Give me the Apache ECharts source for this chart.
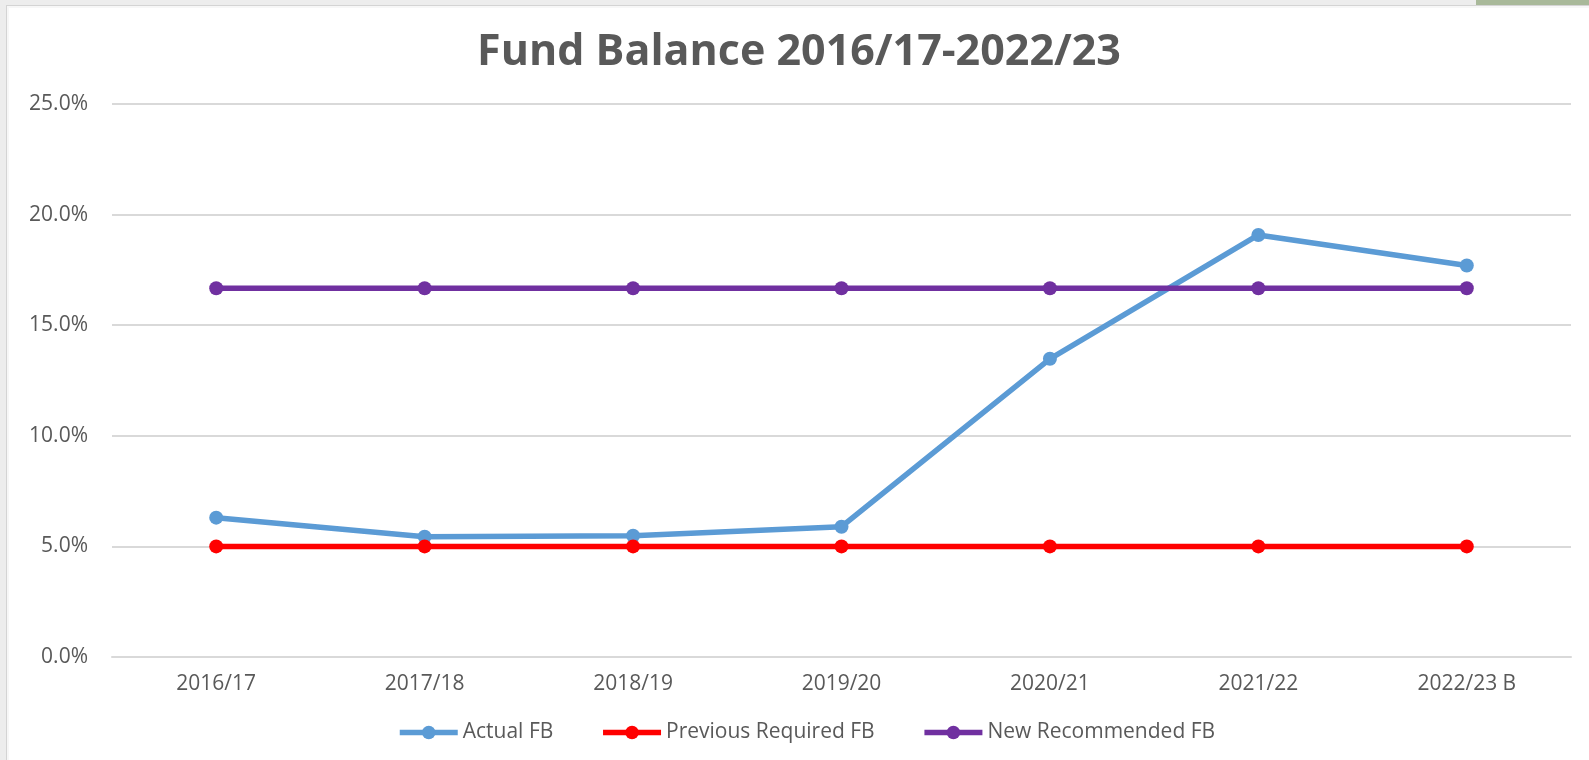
<!DOCTYPE html>
<html>
<head>
<meta charset="utf-8">
<title>Fund Balance</title>
<script src="https://cdn.jsdelivr.net/npm/echarts@6/dist/echarts.min.js"></script>
<style>
  html, body { margin: 0; padding: 0; background: #ededed; overflow: hidden; }
  #frame { position: absolute; left: 6px; top: 5px; width: 1583px; height: 755px; background: #f7f7f7; border-left: 1px solid #d4d4d4; border-top: 1px solid #d4d4d4; }
  #chart { position: absolute; left: 9px; top: 8px; width: 1580px; height: 752px; background: #ffffff; }
  #tab { position: absolute; left: 1476px; top: 0; width: 113px; height: 5px; background: #a9b99a; }
</style>
</head>
<body>
<div id="frame"></div>
<div id="tab"></div>
<div id="chart"></div>
<script>
// categories + series (percent)
const years = ['2016/17', '2017/18', '2018/19', '2019/20', '2020/21', '2021/22', '2022/23 B'];
const actualFB = [6.30, 5.44, 5.48, 5.89, 13.48, 19.08, 17.70];
const previousFB = [5.0, 5.0, 5.0, 5.0, 5.0, 5.0, 5.0];
const recommendedFB = [16.67, 16.67, 16.67, 16.67, 16.67, 16.67, 16.67];

const textColor = '#595959';
const fontFam = '"Open Sans", "Noto Sans", sans-serif';

// 一条折线的样式
function lineSeries(name, data, color) {
	return {
		name: name,
		type: 'line',
		data: data,
		symbol: 'circle',
		symbolSize: 14,
		lineStyle: { width: 5.5, color: color },
		itemStyle: { color: color },
		emphasis: { disabled: true },
		animation: false
	};
}

const myChart = echarts.init(document.getElementById('chart'));
myChart.setOption({
	backgroundColor: '#ffffff',
	title: {
		text: 'Fund Balance 2016/17-2022/23',
		left: 'center',
		top: 18,
		textStyle: { color: textColor, fontSize: 43, fontWeight: 'bold', fontFamily: fontFam }
	},
	grid: { left: 103, right: 18, top: 96, bottom: 103 },
	legend: {
		top: 709,
		left: 383,
		itemWidth: 58,
		itemHeight: 17,
		itemGap: 47,
		lineStyle: { width: 5.5 },
		textStyle: { color: textColor, fontSize: 21, fontFamily: fontFam },
		data: ['Actual FB', 'Previous Required FB', 'New Recommended FB']
	},
	xAxis: {
		type: 'category',
		data: years,
		boundaryGap: true,
		axisLine: { lineStyle: { color: '#d9d9d9', width: 2 } },
		axisTick: { show: false },
		axisLabel: { color: textColor, fontSize: 21, fontFamily: fontFam, margin: 17 }
	},
	yAxis: {
		type: 'value',
		min: 0,
		max: 25,
		interval: 5,
		axisLine: { show: false },
		axisTick: { show: false },
		splitLine: { lineStyle: { color: '#d9d9d9', width: 2 } },
		axisLabel: {
			color: textColor, fontSize: 21, fontFamily: fontFam, margin: 24,
			formatter: v => v.toFixed(1) + '%'
		}
	},
	series: [
		lineSeries('Actual FB', actualFB, '#5b9bd5'),
		lineSeries('Previous Required FB', previousFB, '#ff0000'),
		lineSeries('New Recommended FB', recommendedFB, '#7030a0')
	]
});
</script>
</body>
</html>
